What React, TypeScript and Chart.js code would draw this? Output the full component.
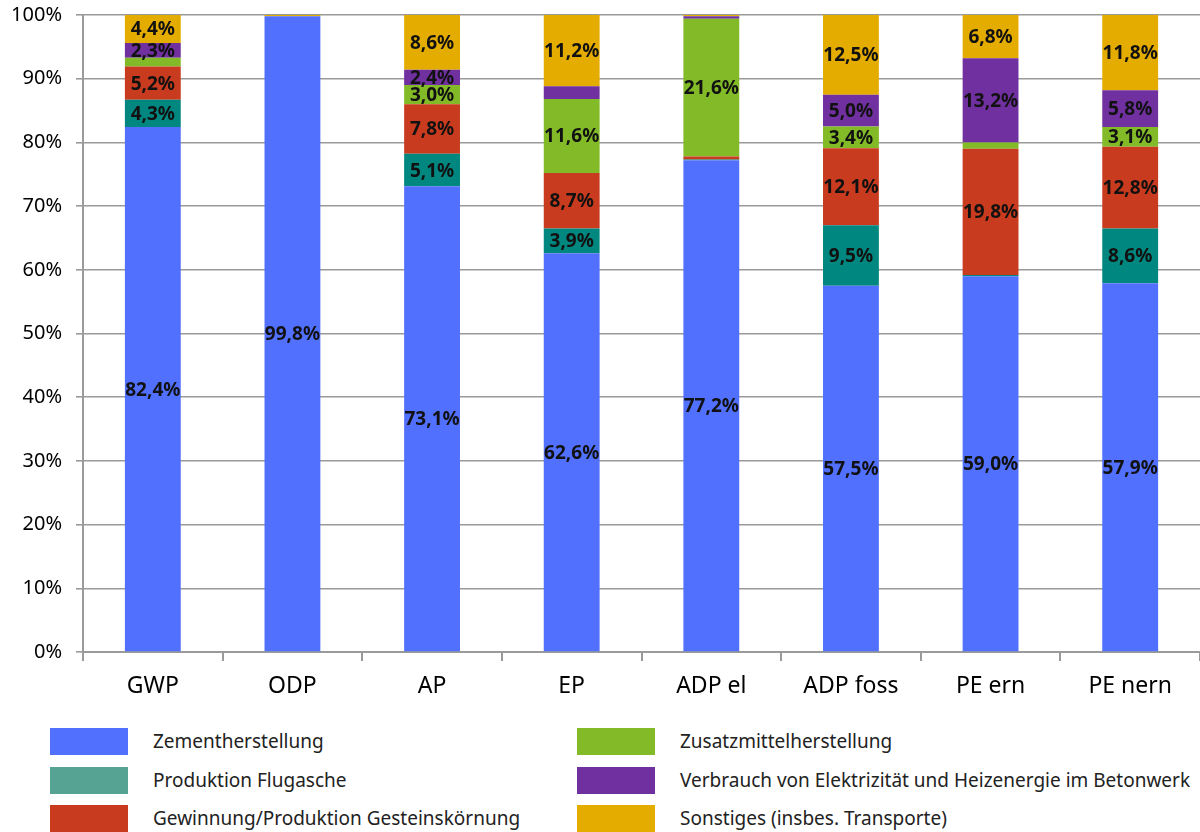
import React, { useEffect, useRef } from "react";
import { Chart, registerables } from "chart.js";

Chart.register(...registerables);

const categories = ["GWP", "ODP", "AP", "EP", "ADP el", "ADP foss", "PE ern", "PE nern"];
const zementherstellung = [82.4, 99.8, 73.1, 62.6, 77.2, 57.5, 59.0, 57.9];
const flugasche = [4.3, 0, 5.1, 3.9, 0.1, 9.5, 0.2, 8.6];
const gesteinskoernung = [5.2, 0, 7.8, 8.7, 0.5, 12.1, 19.8, 12.8];
const zusatzmittel = [1.4, 0, 3.0, 11.6, 21.6, 3.4, 1.0, 3.1];
const elektrizitaet = [2.3, 0, 2.4, 2.0, 0.4, 5.0, 13.2, 5.8];
const sonstiges = [4.4, 0.2, 8.6, 11.2, 0.2, 12.5, 6.8, 11.8];

const seriesNames = [
  "Zementherstellung",
  "Produktion Flugasche",
  "Gewinnung/Produktion Gesteinskörnung",
  "Zusatzmittelherstellung",
  "Verbrauch von Elektrizität und Heizenergie im Betonwerk",
  "Sonstiges (insbes. Transporte)",
];
const seriesData = [zementherstellung, flugasche, gesteinskoernung, zusatzmittel, elektrizitaet, sonstiges];
const barColors = ["#5270FE", "#00877F", "#C83B1E", "#82BB27", "#7030A0", "#E5AC00"];
const legendColors = ["#5270FE", "#56A293", "#C83B1E", "#82BB27", "#7030A0", "#E5AC00"];
// legend layout order: left column first three, right column last three
const legendLeft = [0, 1, 2];
const legendRight = [3, 4, 5];

const FONT = '"Noto Sans", sans-serif';
const GRID = "#9A9A9A";

const segLabelPlugin = {
  id: "segLabels",
  afterDatasetsDraw(chart: any) {
    const ctx = chart.ctx;
    ctx.save();
    ctx.font = `bold 19px ${FONT}`;
    ctx.fillStyle = "#111";
    ctx.textAlign = "center";
    ctx.textBaseline = "middle";
    chart.data.datasets.forEach((ds: any, i: number) => {
      const meta = chart.getDatasetMeta(i);
      meta.data.forEach((el: any, j: number) => {
        const v = ds.data[j];
        if (v < 2.2) return;
        const p = el.getProps(["x", "y", "base"], true);
        ctx.fillText(v.toFixed(1).replace(".", ",") + "%", p.x, (p.y + p.base) / 2 + 1);
      });
    });
    ctx.restore();
  },
};

export default function App() {
  const ref = useRef<HTMLCanvasElement | null>(null);

  useEffect(() => {
    if (!ref.current) return;
    const chart = new Chart(ref.current, {
      type: "bar",
      data: {
        labels: categories,
        datasets: seriesNames.map((name, i) => ({
          label: name,
          data: seriesData[i],
          backgroundColor: barColors[i],
          borderWidth: 0,
          barPercentage: 0.4,
          categoryPercentage: 1.0,
        })),
      },
      options: {
        responsive: false,
        animation: false,
        layout: { padding: { top: 6, left: 0, right: 0, bottom: 0 } },
        plugins: { legend: { display: false }, tooltip: { enabled: false } },
        scales: {
          x: {
            stacked: true,
            afterFit: (s: any) => {
              s.height = 61;
            },
            grid: {
              display: true,
              drawOnChartArea: false,
              offset: true,
              tickLength: 9,
              color: GRID,
              lineWidth: 2,
            },
            border: { color: GRID, width: 2 },
            ticks: { color: "#000", font: { family: FONT, size: 23 }, padding: 12 },
          },
          y: {
            stacked: true,
            min: 0,
            max: 100,
            afterFit: (s: any) => {
              s.width = 83;
            },
            grid: { color: GRID, lineWidth: 1.6, tickLength: 7 },
            border: { color: GRID, width: 2 },
            ticks: {
              stepSize: 10,
              color: "#000",
              font: { family: FONT, size: 20 },
              padding: 14,
              callback: (v: any) => v + "%",
            },
          },
        },
      },
      plugins: [segLabelPlugin],
    });
    return () => chart.destroy();
  }, []);

  const legendItem = (idx: number, boxLeft: number, textLeft: number, row: number) => (
    <div key={idx} style={{ position: "absolute", top: 728 + row * 38.5, left: 0, height: 27, width: 1200 }}>
      <div
        style={{
          position: "absolute",
          left: boxLeft,
          top: 0,
          width: 78,
          height: 27,
          background: legendColors[idx],
        }}
      />
      <div
        style={{
          position: "absolute",
          left: textLeft,
          top: 0,
          height: 27,
          lineHeight: "27px",
          fontFamily: FONT,
          fontSize: 19,
          color: "#222",
          whiteSpace: "nowrap",
        }}
      >
        {seriesNames[idx]}
      </div>
    </div>
  );

  return (
    <div style={{ position: "absolute", left: 0, top: 0, width: 1200, height: 832, background: "#fff", overflow: "hidden" }}>
      <canvas ref={ref} width={1200} height={724} style={{ position: "absolute", left: 0, top: -11, width: 1200, height: 724 }} />
      {legendLeft.map((idx, r) => legendItem(idx, 50, 153, r))}
      {legendRight.map((idx, r) => legendItem(idx, 577, 680, r))}
    </div>
  );
}
